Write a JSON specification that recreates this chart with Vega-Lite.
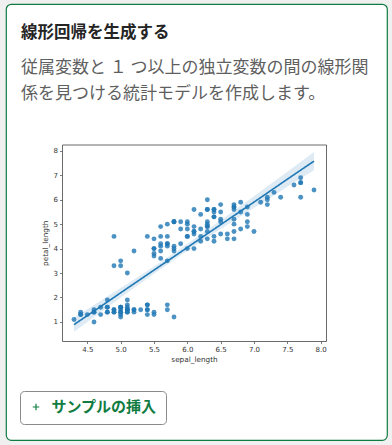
{
  "$schema": "https://vega.github.io/schema/vega-lite/v6.json",
  "width": 381,
  "height": 436,
  "autosize": {"type": "none"},
  "padding": {"left": 6, "top": 4, "right": 5, "bottom": 5},
  "background": "#f0f0f0",
  "config": {
    "view": {"fill": "white", "stroke": "#107c41", "strokeWidth": 1.2, "cornerRadius": 5},
    "axis": {"grid": false, "domainColor": "#5a5a5a", "domainWidth": 0.9, "tickColor": "#5a5a5a", "tickWidth": 0.8, "tickSize": 2.5, "labelFont": "DejaVu Sans", "labelFontSize": 7, "labelColor": "#333", "labelPadding": 2, "titleFont": "DejaVu Sans", "titleFontSize": 7.3, "titleFontWeight": "normal", "titleColor": "#333"}
  },
  "title": {
    "text": "線形回帰を生成する",
    "subtitle": ["従属変数と １ つ以上の独立変数の間の線形関", "係を見つける統計モデルを作成します。"],
    "anchor": "start",
    "frame": "group",
    "orient": "top",
    "offset": -98,
    "dx": 15,
    "font": "Noto Sans CJK JP",
    "fontSize": 16.5,
    "fontWeight": "bold",
    "color": "#242424",
    "subtitleFont": "Noto Sans CJK JP",
    "subtitleFontSize": 17,
    "subtitleColor": "#5f5f5f",
    "subtitleLineHeight": 26.5,
    "subtitlePadding": 18
  },
  "datasets": {
    "iris": [
      {"sepal_length":5.1,"petal_length":1.4},{"sepal_length":4.9,"petal_length":1.4},{"sepal_length":4.7,"petal_length":1.3},{"sepal_length":4.6,"petal_length":1.5},{"sepal_length":5.0,"petal_length":1.4},
      {"sepal_length":5.4,"petal_length":1.7},{"sepal_length":4.6,"petal_length":1.4},{"sepal_length":5.0,"petal_length":1.5},{"sepal_length":4.4,"petal_length":1.4},{"sepal_length":4.9,"petal_length":1.5},
      {"sepal_length":5.4,"petal_length":1.5},{"sepal_length":4.8,"petal_length":1.6},{"sepal_length":4.8,"petal_length":1.4},{"sepal_length":4.3,"petal_length":1.1},{"sepal_length":5.8,"petal_length":1.2},
      {"sepal_length":5.7,"petal_length":1.5},{"sepal_length":5.4,"petal_length":1.3},{"sepal_length":5.1,"petal_length":1.4},{"sepal_length":5.7,"petal_length":1.7},{"sepal_length":5.1,"petal_length":1.5},
      {"sepal_length":5.4,"petal_length":1.7},{"sepal_length":5.1,"petal_length":1.5},{"sepal_length":4.6,"petal_length":1.0},{"sepal_length":5.1,"petal_length":1.7},{"sepal_length":4.8,"petal_length":1.9},
      {"sepal_length":5.0,"petal_length":1.6},{"sepal_length":5.0,"petal_length":1.6},{"sepal_length":5.2,"petal_length":1.5},{"sepal_length":5.2,"petal_length":1.4},{"sepal_length":4.7,"petal_length":1.6},
      {"sepal_length":4.8,"petal_length":1.6},{"sepal_length":5.4,"petal_length":1.5},{"sepal_length":5.2,"petal_length":1.5},{"sepal_length":5.5,"petal_length":1.4},{"sepal_length":4.9,"petal_length":1.5},
      {"sepal_length":5.0,"petal_length":1.2},{"sepal_length":5.5,"petal_length":1.3},{"sepal_length":4.9,"petal_length":1.4},{"sepal_length":4.4,"petal_length":1.3},{"sepal_length":5.1,"petal_length":1.5},
      {"sepal_length":5.0,"petal_length":1.3},{"sepal_length":4.5,"petal_length":1.3},{"sepal_length":4.4,"petal_length":1.3},{"sepal_length":5.0,"petal_length":1.6},{"sepal_length":5.1,"petal_length":1.9},
      {"sepal_length":4.8,"petal_length":1.4},{"sepal_length":5.1,"petal_length":1.6},{"sepal_length":4.6,"petal_length":1.4},{"sepal_length":5.3,"petal_length":1.5},{"sepal_length":5.0,"petal_length":1.4},
      {"sepal_length":7.0,"petal_length":4.7},{"sepal_length":6.4,"petal_length":4.5},{"sepal_length":6.9,"petal_length":4.9},{"sepal_length":5.5,"petal_length":4.0},{"sepal_length":6.5,"petal_length":4.6},
      {"sepal_length":5.7,"petal_length":4.5},{"sepal_length":6.3,"petal_length":4.7},{"sepal_length":4.9,"petal_length":3.3},{"sepal_length":6.6,"petal_length":4.6},{"sepal_length":5.2,"petal_length":3.9},
      {"sepal_length":5.0,"petal_length":3.5},{"sepal_length":5.9,"petal_length":4.2},{"sepal_length":6.0,"petal_length":4.0},{"sepal_length":6.1,"petal_length":4.7},{"sepal_length":5.6,"petal_length":3.6},
      {"sepal_length":6.7,"petal_length":4.4},{"sepal_length":5.6,"petal_length":4.5},{"sepal_length":5.8,"petal_length":4.1},{"sepal_length":6.2,"petal_length":4.5},{"sepal_length":5.6,"petal_length":3.9},
      {"sepal_length":5.9,"petal_length":4.8},{"sepal_length":6.1,"petal_length":4.0},{"sepal_length":6.3,"petal_length":4.9},{"sepal_length":6.1,"petal_length":4.7},{"sepal_length":6.4,"petal_length":4.3},
      {"sepal_length":6.6,"petal_length":4.4},{"sepal_length":6.8,"petal_length":4.8},{"sepal_length":6.7,"petal_length":5.0},{"sepal_length":6.0,"petal_length":4.5},{"sepal_length":5.7,"petal_length":3.5},
      {"sepal_length":5.5,"petal_length":3.8},{"sepal_length":5.5,"petal_length":3.7},{"sepal_length":5.8,"petal_length":3.9},{"sepal_length":6.0,"petal_length":5.1},{"sepal_length":5.4,"petal_length":4.5},
      {"sepal_length":6.0,"petal_length":4.5},{"sepal_length":6.7,"petal_length":4.7},{"sepal_length":6.3,"petal_length":4.4},{"sepal_length":5.6,"petal_length":4.1},{"sepal_length":5.5,"petal_length":4.0},
      {"sepal_length":5.5,"petal_length":4.4},{"sepal_length":6.1,"petal_length":4.6},{"sepal_length":5.8,"petal_length":4.0},{"sepal_length":5.0,"petal_length":3.3},{"sepal_length":5.6,"petal_length":4.2},
      {"sepal_length":5.7,"petal_length":4.2},{"sepal_length":5.7,"petal_length":4.2},{"sepal_length":6.2,"petal_length":4.3},{"sepal_length":5.1,"petal_length":3.0},{"sepal_length":5.7,"petal_length":4.1},
      {"sepal_length":6.3,"petal_length":6.0},{"sepal_length":5.8,"petal_length":5.1},{"sepal_length":7.1,"petal_length":5.9},{"sepal_length":6.3,"petal_length":5.6},{"sepal_length":6.5,"petal_length":5.8},
      {"sepal_length":7.6,"petal_length":6.6},{"sepal_length":4.9,"petal_length":4.5},{"sepal_length":7.3,"petal_length":6.3},{"sepal_length":6.7,"petal_length":5.8},{"sepal_length":7.2,"petal_length":6.1},
      {"sepal_length":6.5,"petal_length":5.1},{"sepal_length":6.4,"petal_length":5.3},{"sepal_length":6.8,"petal_length":5.5},{"sepal_length":5.7,"petal_length":5.0},{"sepal_length":5.8,"petal_length":5.1},
      {"sepal_length":6.4,"petal_length":5.3},{"sepal_length":6.5,"petal_length":5.5},{"sepal_length":7.7,"petal_length":6.7},{"sepal_length":7.7,"petal_length":6.9},{"sepal_length":6.0,"petal_length":5.0},
      {"sepal_length":6.9,"petal_length":5.7},{"sepal_length":5.6,"petal_length":4.9},{"sepal_length":7.7,"petal_length":6.7},{"sepal_length":6.3,"petal_length":4.9},{"sepal_length":6.7,"petal_length":5.7},
      {"sepal_length":7.2,"petal_length":6.0},{"sepal_length":6.2,"petal_length":4.8},{"sepal_length":6.1,"petal_length":4.9},{"sepal_length":6.4,"petal_length":5.6},{"sepal_length":7.2,"petal_length":5.8},
      {"sepal_length":7.4,"petal_length":6.1},{"sepal_length":7.9,"petal_length":6.4},{"sepal_length":6.4,"petal_length":5.6},{"sepal_length":6.3,"petal_length":5.1},{"sepal_length":6.1,"petal_length":5.6},
      {"sepal_length":7.7,"petal_length":6.1},{"sepal_length":6.3,"petal_length":5.6},{"sepal_length":6.4,"petal_length":5.5},{"sepal_length":6.0,"petal_length":4.8},{"sepal_length":6.9,"petal_length":5.4},
      {"sepal_length":6.7,"petal_length":5.6},{"sepal_length":6.9,"petal_length":5.1},{"sepal_length":5.8,"petal_length":5.1},{"sepal_length":6.8,"petal_length":5.9},{"sepal_length":6.7,"petal_length":5.7},
      {"sepal_length":6.7,"petal_length":5.2},{"sepal_length":6.3,"petal_length":5.0},{"sepal_length":6.5,"petal_length":5.2},{"sepal_length":6.2,"petal_length":5.4},{"sepal_length":5.9,"petal_length":5.1}
    ],
    "fit": [
      {"x":4.3,"lo":0.60,"fit":0.89,"hi":1.18},
      {"x":4.7,"lo":1.40,"fit":1.63,"hi":1.87},
      {"x":5.1,"lo":2.19,"fit":2.38,"hi":2.56},
      {"x":5.5,"lo":2.97,"fit":3.12,"hi":3.27},
      {"x":5.9,"lo":3.73,"fit":3.86,"hi":4.00},
      {"x":6.3,"lo":4.45,"fit":4.61,"hi":4.77},
      {"x":6.7,"lo":5.15,"fit":5.35,"hi":5.55},
      {"x":7.1,"lo":5.84,"fit":6.09,"hi":6.35},
      {"x":7.5,"lo":6.53,"fit":6.84,"hi":7.15},
      {"x":7.9,"lo":7.21,"fit":7.58,"hi":7.95}
    ]
  },
  "layer": [
    {
      "data": {"name": "fit"},
      "mark": {"type": "area", "color": "#1f77b4", "opacity": 0.15},
      "encoding": {
        "x": {"field": "x", "type": "quantitative", "scale": {"domain": [4.12, 8.08], "range": [56, 320], "nice": false, "zero": false},
              "axis": {"orient": "top", "offset": -140.5, "labels": false, "ticks": false, "title": null}},
        "y": {"field": "lo", "type": "quantitative", "scale": {"domain": [0.22, 8.26], "range": [337, 140.5], "nice": false, "zero": false},
              "axis": {"orient": "right", "offset": -61, "labels": false, "ticks": false, "title": null}},
        "y2": {"field": "hi"}
      }
    },
    {
      "data": {"name": "iris"},
      "mark": {"type": "circle", "color": "#1f77b4", "opacity": 0.8, "size": 24},
      "encoding": {
        "x": {"field": "sepal_length", "type": "quantitative",
              "axis": {"orient": "bottom", "offset": -99, "values": [4.5, 5.0, 5.5, 6.0, 6.5, 7.0, 7.5, 8.0], "format": ".1f", "title": "sepal_length", "titlePadding": 3}},
        "y": {"field": "petal_length", "type": "quantitative",
              "axis": {"orient": "left", "offset": -56, "values": [1, 2, 3, 4, 5, 6, 7, 8], "format": "d", "title": "petal_length", "titlePadding": 4}}
      }
    },
    {
      "data": {"name": "fit"},
      "mark": {"type": "line", "color": "#1f77b4", "strokeWidth": 1.6},
      "encoding": {
        "x": {"field": "x", "type": "quantitative", "axis": null},
        "y": {"field": "fit", "type": "quantitative", "axis": null},
        "strokeDash": {"datum": "サンプルの挿入", "type": "nominal", "scale": {"range": [[1, 0]]},
          "legend": {"orient": "none", "legendX": 14, "legendY": 387, "title": null, "padding": 8.5,
            "strokeColor": "#8a8a8a", "fillColor": "white", "cornerRadius": 4,
            "symbolType": "M-0.5,0H0.5M0,-0.5V0.5", "symbolSize": 169, "symbolStrokeColor": "#107c41", "symbolStrokeWidth": 1.2, "symbolFillColor": "transparent",
            "labelFont": "Noto Sans CJK JP", "labelFontSize": 15, "labelFontWeight": "bold", "labelColor": "#107c41", "labelOffset": 8, "labelExpr": "datum.label + '\u2003\u2009\u2009'"}}
      }
    }
  ],
  "resolve": {"axis": {"x": "independent", "y": "independent"}}
}
